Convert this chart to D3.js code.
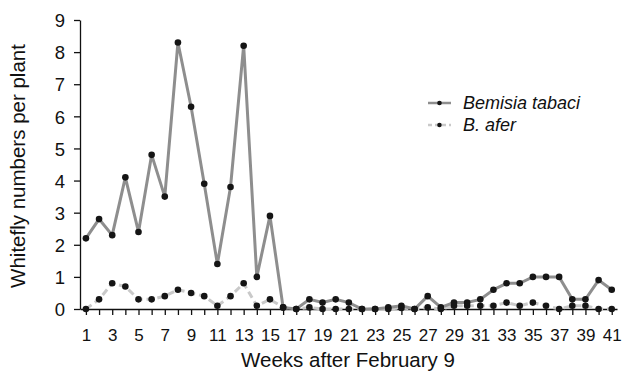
<!DOCTYPE html>
<html>
<head>
<meta charset="utf-8">
<script src="https://cdn.jsdelivr.net/npm/d3@7"></script>
<style>
  body { margin: 0; background: #fff; }
  svg text { font-family: "Liberation Sans", Arial, sans-serif; fill: #111; }
</style>
</head>
<body>
<div id="chart"></div>
<script>
const width = 622;
const height = 372;

const weeks = d3.range(1, 42);
const tabaci = [2.2, 2.8, 2.3, 4.1, 2.4, 4.8, 3.5, 8.3, 6.3, 3.9,
    1.4, 3.8, 8.2, 1.0, 2.9, 0.05, 0, 0.3, 0.2, 0.3,
    0.2, 0, 0, 0.05, 0.1, 0, 0.4, 0.05, 0.2, 0.2,
    0.3, 0.6, 0.8, 0.8, 1.0, 1.0, 1.0, 0.3, 0.3, 0.9, 0.6];
const afer = [0, 0.3, 0.8, 0.7, 0.3, 0.3, 0.4, 0.6, 0.5, 0.4,
    0.1, 0.4, 0.8, 0.1, 0.3, 0.05, 0, 0.05, 0, 0,
    0, 0, 0, 0, 0.03, 0, 0.05, 0, 0.1, 0.1,
    0.1, 0.1, 0.2, 0.1, 0.2, 0.1, 0, 0.1, 0.1, 0, 0];
const yTicks = d3.range(0, 10);
const seriesNames = ["Bemisia tabaci", "B. afer"];

const margin = {top: 20, right: 5, bottom: 65, left: 80};

const svg = d3.select("#chart")
    .append("svg")
    .attr("width", width)
    .attr("height", height);

const x = d3.scaleLinear()
    .domain([0.55, 41.4])
    .range([margin.left, width - margin.right]);

const y = d3.scaleLinear()
    .domain([0, 9])
    .range([height - margin.bottom + 2, margin.top]);

// axes
const xAxis = svg.append("g")
    .attr("transform", `translate(0,${y(0)})`)
    .call(d3.axisBottom(x).tickValues(weeks).tickSize(6).tickSizeOuter(0)
        .tickFormat(d => d % 2 === 1 ? d : ""));
xAxis.selectAll("text").attr("font-size", 17).attr("dy", "1.35em");

const yAxis = svg.append("g")
    .attr("transform", `translate(${margin.left},0)`)
    .call(d3.axisLeft(y).tickValues(yTicks).tickSize(6).tickSizeOuter(0).tickPadding(9));
yAxis.selectAll("text").attr("font-size", 18.5).attr("dy", "0.36em");

svg.selectAll(".domain, .tick line").attr("stroke", "#111").attr("stroke-width", 1.3);

// axis titles
svg.append("text")
    .attr("x", 348)
    .attr("y", 367)
    .attr("text-anchor", "middle")
    .attr("font-size", 20.5)
    .text("Weeks after February 9");

svg.append("text")
    .attr("transform", "translate(25,166) rotate(-90)")
    .attr("text-anchor", "middle")
    .attr("font-size", 20.5)
    .text("Whitefly numbers per plant");

// lines
const line = d3.line().x((d, i) => x(weeks[i])).y(d => y(d));

svg.append("path")
    .datum(afer)
    .attr("fill", "none")
    .attr("stroke", "#c9c9c9")
    .attr("stroke-width", 3)
    .attr("stroke-dasharray", "7,4")
    .attr("d", line);

svg.append("path")
    .datum(tabaci)
    .attr("fill", "none")
    .attr("stroke", "#8e8e8e")
    .attr("stroke-width", 3)
    .attr("d", line);

[afer, tabaci].forEach(s => {
    svg.append("g").selectAll("circle")
        .data(s)
        .enter()
        .append("circle")
        .attr("cx", (d, i) => x(weeks[i]))
        .attr("cy", d => y(d))
        .attr("r", 3.3)
        .attr("fill", "#151515");
});

// legend
const legend = svg.append("g").attr("transform", "translate(428,103)");
seriesNames.forEach((name, i) => {
    const g = legend.append("g").attr("transform", `translate(0,${i * 22})`);
    g.append("line")
        .attr("x1", 0).attr("x2", 23)
        .attr("stroke", i === 0 ? "#8e8e8e" : "#c9c9c9")
        .attr("stroke-width", 2.5)
        .attr("stroke-dasharray", i === 0 ? null : "4,3");
    g.append("circle").attr("cx", 11.5).attr("r", 2.3).attr("fill", "#151515");
    g.append("text")
        .attr("x", 35)
        .attr("dy", "0.36em")
        .attr("font-size", 18)
        .attr("font-style", "italic")
        .text(name);
});
</script>
</body>
</html>
